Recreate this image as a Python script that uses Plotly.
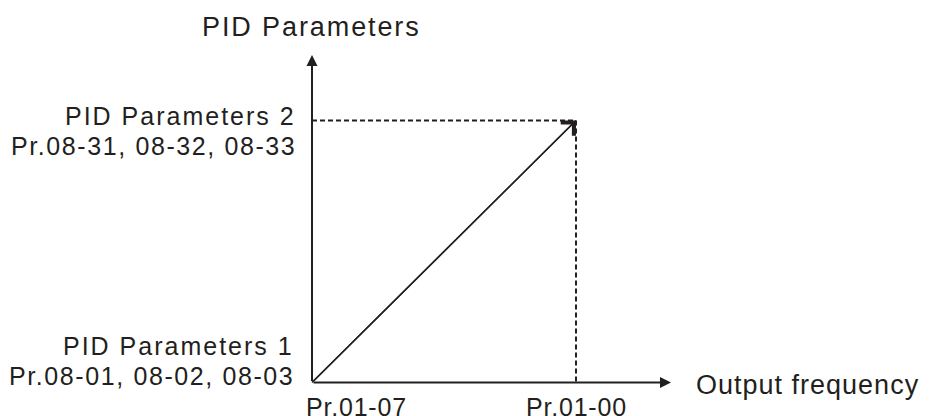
import plotly.graph_objects as go

# ---- data -------------------------------------------------------------
freq_points = [0, 1]                      # normalised output frequency
freq_labels = ["Pr.01-07", "Pr.01-00"]
pid_points = [0, 1]                       # PID parameter set 1 -> 2
pid_titles = ["PID Parameters 1", "PID Parameters 2"]
pid_params = ["Pr.08-01, 08-02, 08-03", "Pr.08-31, 08-32, 08-33"]
x_title = "Output frequency"
y_title = "PID Parameters"

# ---- layout constants -------------------------------------------------
OFF = 8                    # page body margin
W, H = 930 - OFF, 416 - OFF
OX, OY = 312 - OFF, 382.5 - OFF   # pixel of origin inside the figure
UX, UY = 264, 262                 # pixels per data unit
X_EXT, Y_EXT = (671 - OFF - OX) / UX, (OY - (55 - OFF)) / UY   # axis arrow extents
INK = "#231f20"
FONT = "Liberation Sans, Arial, sans-serif"

xr = [-OX / UX, (W - OX) / UX]
yr = [-(H - OY) / UY, OY / UY]


def px(x):
    return (x - OFF) / W


def py(y):
    return 1 - (y - OFF) / H


def sp(text, s):
    return f'<span style="letter-spacing:{s}px">{text}</span>'


fig = go.Figure()

# dashed guide lines
fig.add_trace(go.Scatter(
    x=[freq_points[0], freq_points[1], freq_points[1]],
    y=[pid_points[1], pid_points[1], pid_points[0]],
    mode="lines", line=dict(color=INK, width=2, dash="5px,3px"),
    hoverinfo="skip", showlegend=False))

# diagonal relation
fig.add_trace(go.Scatter(
    x=freq_points, y=pid_points, mode="lines",
    line=dict(color=INK, width=1.5), hoverinfo="skip", showlegend=False))

ann = []
# axes with arrows
ann.append(dict(x=X_EXT, y=pid_points[0], ax=freq_points[0], ay=pid_points[0],
                xref="x", yref="y", axref="x", ayref="y", text="",
                showarrow=True, arrowhead=2, arrowsize=1.1, arrowwidth=2,
                arrowcolor=INK))
ann.append(dict(x=freq_points[0], y=Y_EXT, ax=freq_points[0], ay=pid_points[0],
                xref="x", yref="y", axref="x", ayref="y", text="",
                showarrow=True, arrowhead=2, arrowsize=1.1, arrowwidth=2,
                arrowcolor=INK))
# open arrow head on diagonal
ann.append(dict(x=freq_points[1], y=pid_points[1], ax=freq_points[0], ay=pid_points[0],
                xref="x", yref="y", axref="x", ayref="y", text="",
                showarrow=True, arrowhead=4, arrowsize=2.4, arrowwidth=1.5,
                arrowcolor=INK))


# texts (positions given in screen pixels)
def txt(t, x, y, xa, size, s):
    ann.append(dict(text=sp(t, s), x=px(x), y=py(y), xref="paper", yref="paper",
                    xanchor=xa, yanchor="middle", showarrow=False,
                    font=dict(family=FONT, size=size, color=INK)))


txt(y_title, 311, 27, "center", 27, 1.9)
txt(pid_titles[1], 298, 116, "right", 25, 2.0)
txt(pid_params[1], 298, 146, "right", 25, 1.6)
txt(pid_titles[0], 296, 346, "right", 25, 2.0)
txt(pid_params[0], 296, 376, "right", 25, 1.6)
txt(x_title, 694, 385, "left", 27, 1.0)
txt(freq_labels[0], 356, 407, "center", 25, 0.8)
txt(freq_labels[1], 576, 407, "center", 25, 0.8)

fig.update_layout(
    width=W, height=H, margin=dict(l=0, r=0, t=0, b=0),
    paper_bgcolor="white", plot_bgcolor="white",
    xaxis=dict(range=xr, visible=False, fixedrange=True),
    yaxis=dict(range=yr, visible=False, fixedrange=True),
    annotations=ann, showlegend=False)

fig.write_html("out.html")
